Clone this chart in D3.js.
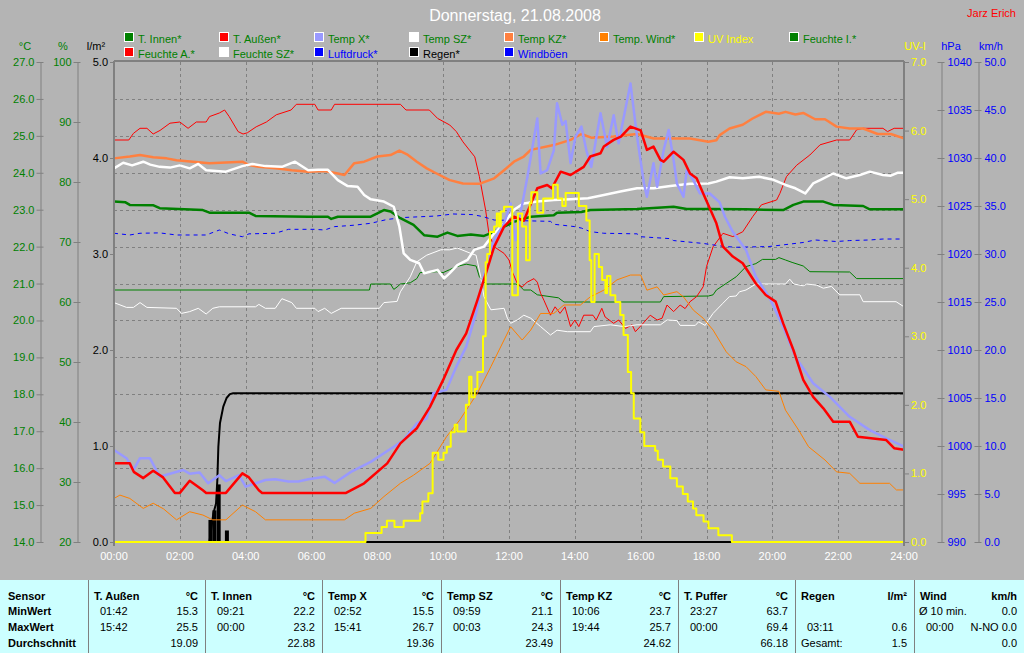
<!DOCTYPE html>
<html><head><meta charset="utf-8">
<script src="https://cdn.jsdelivr.net/npm/d3@7"></script>
<style>
body{margin:0;background:#b4b4b4;}
svg{display:block;font-family:"Liberation Sans",Arial,sans-serif;}
</style></head><body>
<svg id="c" width="1024" height="653"></svg>
<script>
// ---------------- DATA ----------------
const titleText = "Donnerstag, 21.08.2008";
const authorText = "Jarz Erich";
const timeLabels = ["00:00","02:00","04:00","06:00","08:00","10:00","12:00","14:00","16:00","18:00","20:00","22:00","24:00"];
const timeTickHours = [0,2,4,6,8,10,12,14,16,18,20,22,24];
const tempTicks = [14,15,16,17,18,19,20,21,22,23,24,25,26,27];
const humTicks = [20,30,40,50,60,70,80,90,100];
const rainTicks = [0,1,2,3,4,5];
const uvTicks = [0,1,2,3,4,5,6,7];
const pressTicks = [990,995,1000,1005,1010,1015,1020,1025,1030,1035,1040];
const windTicks = [0,5,10,15,20,25,30,35,40,45,50];
const legendNames = ["T. Innen*","T. Außen*","Temp X*","Temp SZ*","Temp KZ*","Temp. Wind*","UV Index","Feuchte I.*","Feuchte A.*","Feuchte SZ*","Luftdruck*","Regen*","Windböen"];

// [hour, value]
const tOut = [[0,16.13],[0.48,16.13],[0.6,15.9],[0.89,15.73],[1.19,15.93],[1.49,15.75],[1.85,15.33],[2.0,15.33],[2.3,15.66],[2.7,15.4],[2.8,15.33],[3.4,15.33],[3.9,15.86],[4.1,15.75],[4.4,15.4],[4.5,15.33],[5.9,15.33],[7.05,15.33],[7.6,15.59],[8.3,16.13],[8.7,16.67],[9.2,17.08],[9.6,17.66],[10.0,18.39],[10.4,19.2],[10.7,19.65],[11.04,20.55],[11.3,21.28],[11.55,22.0],[11.85,22.54],[12.15,22.81],[12.45,22.7],[12.86,23.58],[13.16,23.67],[13.3,23.58],[13.57,24.03],[13.87,23.94],[14.27,24.16],[14.47,24.44],[14.78,24.53],[14.88,24.71],[15.18,24.89],[15.4,24.98],[15.69,25.25],[16.0,25.15],[16.19,24.62],[16.39,24.71],[16.6,24.35],[16.7,24.3],[17.0,24.57],[17.3,24.35],[17.5,23.98],[17.7,23.85],[17.9,23.44],[18.3,22.63],[18.5,22.0],[18.8,21.73],[19.1,21.55],[19.5,21.0],[19.8,20.69],[20.1,20.51],[20.33,19.92],[20.64,19.2],[20.94,18.39],[21.24,17.93],[21.55,17.62],[21.85,17.26],[22.35,17.26],[22.6,16.85],[23.46,16.76],[23.7,16.54],[24,16.5]];
const tX = [[0,16.49],[0.38,16.27],[0.59,15.95],[0.79,16.27],[1.09,16.27],[1.39,15.77],[1.7,15.85],[2.1,15.95],[2.3,15.85],[2.6,15.88],[2.86,15.59],[3.2,15.81],[3.4,15.65],[3.8,15.81],[4.0,15.5],[4.6,15.68],[4.9,15.7],[5.3,15.64],[5.6,15.64],[5.9,15.7],[6.4,15.77],[6.7,15.6],[7.2,15.9],[7.8,16.17],[8.5,16.58],[8.8,16.76],[9.2,17.21],[9.5,17.35],[9.7,18.03],[10.1,18.12],[10.4,18.75],[10.7,19.29],[11.0,20.19],[11.3,21.46],[11.55,22.18],[11.85,22.63],[12.05,23.17],[12.2,22.18],[12.35,22.9],[12.56,23.89],[12.86,25.47],[12.96,23.98],[13.16,24.07],[13.36,24.6],[13.46,25.88],[13.62,25.3],[13.72,25.4],[13.87,24.26],[14.02,24.98],[14.2,25.25],[14.35,24.6],[14.5,24.16],[14.78,25.61],[14.98,24.7],[15.18,25.56],[15.33,24.8],[15.53,25.7],[15.69,26.42],[15.89,24.98],[16.1,23.71],[16.19,23.35],[16.39,24.26],[16.5,23.62],[16.7,24.62],[16.85,25.16],[17.0,24.35],[17.1,23.71],[17.3,23.35],[17.4,24.07],[17.6,23.8],[17.8,23.44],[18.1,23.44],[18.4,23.2],[18.56,22.81],[18.8,22.4],[19.2,21.91],[19.5,21.18],[19.9,20.64],[20.33,19.83],[20.7,19.02],[21.24,18.3],[21.75,17.93],[22.35,17.39],[22.96,17.03],[23.46,16.81],[24,16.58]];
const tSZ = [[0,24.12],[0.28,24.27],[0.55,24.2],[0.89,24.3],[1.1,24.22],[1.39,24.16],[1.7,24.14],[2.0,24.2],[2.3,24.12],[2.56,24.24],[2.8,24.07],[3.4,24.03],[3.9,24.18],[4.2,24.24],[4.6,24.18],[5.1,24.16],[5.5,24.3],[5.9,24.07],[6.2,24.08],[6.5,24.08],[6.8,23.8],[7.1,23.64],[7.4,23.62],[7.6,23.4],[7.8,23.28],[8.2,23.22],[8.5,23.08],[8.67,22.54],[8.8,21.82],[9.0,21.64],[9.27,21.55],[9.42,21.28],[9.83,21.37],[10.03,21.14],[10.2,21.28],[10.43,21.5],[10.74,21.64],[10.94,21.91],[11.24,22.0],[11.55,22.36],[11.85,22.63],[12.15,23.0],[12.45,23.17],[12.86,23.22],[13.36,23.26],[13.87,23.28],[14.4,23.31],[14.88,23.4],[15.38,23.49],[15.89,23.58],[16.4,23.58],[16.9,23.64],[17.5,23.7],[18.06,23.71],[18.3,23.76],[18.7,23.88],[19.1,23.85],[19.6,23.89],[20.0,23.82],[20.4,23.67],[20.7,23.58],[21.0,23.44],[21.24,23.71],[21.45,23.8],[21.85,23.98],[22.25,23.85],[22.66,23.94],[22.96,24.03],[23.36,23.94],[23.6,23.92],[23.8,24.0],[24,24.0]];
const tKZ = [[0,24.39],[0.48,24.44],[0.79,24.48],[1.19,24.42],[1.6,24.39],[1.9,24.34],[2.4,24.3],[2.9,24.26],[3.4,24.28],[3.9,24.3],[4.1,24.21],[4.4,24.16],[4.9,24.12],[5.4,24.07],[5.9,24.03],[6.4,24.05],[6.8,23.98],[7.0,23.94],[7.3,24.26],[7.6,24.3],[8.0,24.44],[8.4,24.48],[8.67,24.6],[8.9,24.5],[9.2,24.3],[9.5,24.12],[9.8,23.98],[10.2,23.8],[10.6,23.71],[11.1,23.7],[11.55,23.85],[11.85,24.07],[12.15,24.3],[12.45,24.44],[12.66,24.62],[13.36,24.75],[13.87,24.89],[14.2,25.05],[14.5,24.95],[15.18,24.98],[15.89,25.05],[16.4,24.93],[17.5,24.93],[18.06,24.84],[18.3,24.88],[18.4,25.02],[18.7,25.2],[19.1,25.3],[19.4,25.47],[19.8,25.65],[20.2,25.6],[20.4,25.65],[20.7,25.58],[20.94,25.62],[21.3,25.45],[21.6,25.45],[21.95,25.25],[22.35,25.2],[22.76,25.2],[23.2,25.05],[23.6,25.05],[24,24.93]];
const tWind = [[0,15.18],[0.18,15.27],[0.48,15.18],[0.89,14.91],[1.19,15.05],[1.5,14.9],[1.9,14.6],[2.3,14.82],[2.7,14.73],[3.0,14.6],[3.4,14.6],[3.9,15.0],[4.3,14.82],[4.6,14.6],[5.9,14.6],[7.0,14.6],[7.3,14.78],[7.8,14.91],[8.2,15.23],[8.7,15.59],[9.1,15.81],[9.6,16.13],[10.1,16.85],[10.5,17.3],[11.04,18.03],[11.45,18.75],[11.85,19.47],[12.05,19.83],[12.4,19.47],[12.66,19.74],[12.96,20.19],[13.36,20.19],[13.67,20.42],[14.17,20.42],[14.47,20.64],[14.88,20.82],[15.28,21.1],[15.69,21.23],[16.0,21.23],[16.19,20.82],[16.5,20.91],[16.7,20.69],[17.1,20.78],[17.3,20.64],[17.6,20.28],[17.9,20.06],[18.2,19.74],[18.6,19.15],[18.9,18.88],[19.2,18.75],[19.5,18.48],[19.8,18.12],[20.2,18.08],[20.4,17.57],[20.8,17.03],[21.1,16.58],[21.6,16.22],[21.95,15.9],[22.35,15.86],[22.66,15.59],[23.56,15.59],[23.77,15.41],[24,15.41]];
const tIn = [[0,23.22],[0.35,23.2],[0.48,23.13],[1.2,23.12],[1.39,23.04],[2.7,22.99],[2.9,22.92],[4.1,22.92],[4.3,22.83],[5.9,22.81],[6.5,22.81],[6.6,22.75],[6.8,22.81],[7.8,22.81],[8.2,22.99],[8.4,22.95],[8.7,22.77],[9.1,22.59],[9.42,22.31],[9.83,22.27],[10.13,22.38],[10.43,22.29],[10.84,22.33],[11.24,22.29],[11.55,22.4],[11.85,22.54],[12.15,22.67],[12.66,22.81],[13.36,22.85],[13.46,22.92],[14.2,22.94],[14.47,22.99],[15.89,23.02],[17.0,23.08],[17.4,23.02],[18.06,23.02],[19.2,23.01],[20.33,22.99],[20.64,23.13],[20.94,23.22],[21.55,23.22],[21.85,23.13],[22.76,23.1],[22.96,23.01],[24,23.01]];
const hIn = [[0,62],[7.76,62],[7.8,63],[8.4,63],[8.5,62.1],[8.6,62.5],[8.7,63],[9.0,63.2],[9.2,63.9],[9.3,64.9],[9.8,65.05],[10.0,64.9],[10.2,65.4],[10.4,65.9],[10.7,66.3],[11.0,66.0],[11.1,64.2],[11.3,63.0],[12.2,63.0],[12.3,62.8],[12.45,62],[12.66,62],[12.86,61.2],[13.5,60.7],[13.67,60.0],[16.6,60.0],[16.7,60.9],[18.06,61.0],[18.2,61.2],[18.3,62],[18.6,63.1],[18.9,64.2],[19.2,65.9],[19.5,66.4],[19.7,67.1],[20.1,67.1],[20.2,67.4],[20.4,67.0],[20.6,66.6],[20.94,66.0],[21.14,65.05],[22.35,65.0],[22.56,63.9],[24,63.9]];
const hOut = [[0,87.0],[0.45,87.0],[0.59,88.1],[0.79,88.95],[1.0,88.95],[1.19,88.0],[1.4,88.6],[1.7,89.8],[2.0,90.0],[2.25,88.95],[2.5,90.0],[2.8,90.0],[2.9,90.9],[3.2,91.5],[3.36,92.0],[3.5,90.9],[3.77,88.4],[3.92,88.0],[4.05,88.2],[4.32,89.2],[4.63,90.0],[4.93,91.2],[5.38,92.0],[5.54,92.95],[6.1,92.95],[6.2,92.0],[6.6,92.0],[6.7,92.95],[8.7,92.95],[8.87,92.0],[9.58,92.0],[9.83,90.6],[10.2,89.5],[10.4,88.4],[10.6,86.7],[10.8,85.3],[10.96,84.2],[11.1,80.9],[11.29,75.3],[11.39,71.45],[11.55,69.2],[11.85,68.1],[12.0,67.0],[12.1,65.05],[12.25,63.1],[12.4,62.5],[12.55,63.3],[12.76,63.9],[12.86,63.3],[12.96,61.45],[13.06,60.3],[13.26,57.8],[13.4,59.2],[13.55,58.1],[13.7,59.2],[13.87,55.9],[14.0,57.0],[14.12,55.9],[14.27,57.8],[14.55,57.8],[14.65,57.0],[14.82,58.95],[14.92,57.5],[15.18,56.45],[15.33,57.0],[15.54,55.6],[15.74,56.2],[15.84,55.05],[16.0,56.0],[16.29,57.8],[16.5,57.0],[16.65,57.3],[16.8,59.5],[17.0,58.4],[17.2,59.5],[17.35,58.9],[17.5,60.05],[17.7,60.9],[17.9,62.55],[18.0,65.9],[18.2,69.2],[18.5,71.45],[18.8,70.9],[19.1,71.7],[19.4,74.2],[19.67,76.2],[20.13,77.0],[20.23,78.1],[20.43,80.9],[20.74,82.8],[21.14,84.5],[21.45,86.2],[21.95,87.0],[22.35,87.0],[22.56,88.7],[22.76,88.95],[23.36,88.95],[23.5,88.4],[23.7,88.95],[24,88.95]];
const hSZ = [[0,59.9],[0.38,59.1],[0.59,59.1],[0.79,59.9],[1.0,59.1],[1.9,58.95],[2.05,58.1],[2.3,58.4],[2.56,58.95],[2.8,58.0],[3.0,58.95],[3.2,59.2],[4.3,59.2],[4.4,59.6],[4.6,58.95],[4.9,58.95],[5.1,60.55],[5.4,59.9],[5.54,58.95],[6.1,58.95],[6.2,58.4],[6.4,58.95],[6.6,58.1],[6.9,58.95],[8.06,58.95],[8.2,59.9],[8.6,60.1],[8.7,61.7],[9.0,64.2],[9.2,66.7],[9.5,67.8],[9.93,68.7],[10.2,68.7],[10.43,69.0],[10.84,68.1],[11.0,67.8],[11.14,64.2],[11.24,60.9],[11.45,58.7],[11.85,58.95],[11.95,57.3],[12.05,56.45],[12.25,57.0],[12.45,57.8],[12.66,57.3],[12.96,55.9],[13.26,54.5],[13.46,55.3],[13.77,55.05],[14.47,55.05],[14.58,55.9],[15.08,56.2],[15.5,55.9],[15.89,56.2],[16.6,56.2],[16.8,57.0],[17.1,56.9],[17.2,56.1],[17.66,56.1],[17.76,56.7],[17.96,56.1],[18.06,57.0],[18.2,58.1],[18.5,59.8],[18.7,60.9],[18.9,61.0],[19.0,61.7],[19.2,62.0],[19.5,63.0],[20.4,63.0],[20.53,63.8],[20.65,63.0],[20.94,62.7],[21.05,63.0],[21.35,62.8],[21.55,62.3],[21.8,62.6],[21.9,62.0],[22.05,61.2],[22.66,61.2],[22.76,60.05],[23.76,60.05],[24,59.2]];
const press = [[0,1022.16],[0.48,1021.98],[0.79,1022.16],[1.39,1022.2],[1.9,1021.98],[2.8,1021.98],[3.2,1022.5],[3.5,1022.1],[3.9,1021.8],[4.1,1022.1],[4.9,1022.16],[5.3,1022.57],[6.1,1022.57],[6.4,1022.5],[6.7,1022.85],[7.3,1023.0],[7.8,1023.2],[8.3,1023.6],[8.8,1023.8],[9.8,1023.96],[10.3,1024.17],[10.9,1024.1],[11.2,1023.9],[11.55,1023.54],[13.26,1023.4],[13.36,1023.1],[14.0,1022.85],[14.2,1022.7],[14.47,1022.33],[14.88,1022.16],[15.89,1022.1],[16.0,1021.8],[16.9,1021.6],[17.0,1021.4],[17.9,1021.1],[18.5,1020.8],[18.9,1020.7],[19.9,1020.78],[20.33,1020.95],[20.94,1021.2],[21.3,1021.46],[21.95,1021.3],[22.35,1021.4],[22.96,1021.46],[23.36,1021.56],[24,1021.56]];
const rainTotal = [[0,0],[2.9,0],[3.02,0.3],[3.1,0.4],[3.14,0.65],[3.17,0.99],[3.22,1.24],[3.32,1.41],[3.42,1.5],[3.52,1.54],[3.62,1.55],[24,1.55]];
const rainRate = [[2.93,0.23],[3.05,0.33],[3.18,0.6],[3.43,0.12]];
const rainBase = [[0,0],[24,0]];
const gusts = [[0,0],[24,0]];
const uv = [[0,0],[7.64,0.13],[8.13,0.22],[8.29,0.31],[8.52,0.22],[8.8,0.31],[9.3,0.42],[9.37,0.59],[9.55,0.71],[9.68,1.3],[9.85,1.2],[10.01,1.3],[10.11,1.39],[10.23,1.6],[10.35,1.71],[10.43,1.61],[10.69,2.0],[10.79,2.41],[10.86,2.11],[10.96,2.23],[11.04,2.48],[11.21,3.0],[11.29,4.08],[11.34,4.2],[11.42,4.52],[11.55,4.6],[11.63,4.79],[11.7,4.6],[11.75,4.82],[11.85,4.89],[12.1,3.6],[12.27,4.79],[12.4,4.6],[12.52,4.11],[12.63,4.94],[12.68,5.1],[12.86,4.8],[13.04,5.01],[13.34,5.21],[13.48,5.01],[13.62,4.9],[13.72,5.09],[14.12,4.9],[14.35,4.69],[14.45,4.11],[14.5,3.5],[14.6,4.2],[14.73,4.01],[14.83,3.82],[14.93,3.63],[14.98,3.88],[15.08,3.6],[15.23,3.5],[15.38,3.31],[15.48,3.02],[15.61,2.48],[15.71,2.17],[15.79,1.8],[15.99,1.6],[16.11,1.4],[16.44,1.33],[16.52,1.2],[16.68,1.1],[16.9,0.93],[17.1,0.81],[17.28,0.7],[17.43,0.59],[17.59,0.49],[17.69,0.39],[17.91,0.3],[18.06,0.2],[18.36,0.1],[18.77,0],[24,0]];

// table
const tabHeadFirst = ["Sensor","MinWert","MaxWert","Durchschnitt"];
const tabSensors = ["T. Außen","T. Innen","Temp X","Temp SZ","Temp KZ","T. Puffer","Regen","Wind"];
const tabUnits = ["°C","°C","°C","°C","°C","°C","l/m²","km/h"];
const tabMinTime = ["01:42","09:21","02:52","09:59","10:06","23:27","","Ø 10 min."];
const tabMinVal = ["15.3","22.2","15.5","21.1","23.7","63.7","","0.0"];
const tabMaxTime = ["15:42","00:00","15:41","00:03","19:44","00:00","03:11","00:00"];
const tabMaxVal = ["25.5","23.2","26.7","24.3","25.7","69.4","0.6","N-NO 0.0"];
const tabAvgLabel = ["","","","","","","Gesamt:",""];
const tabAvg = ["19.09","22.88","19.36","23.49","24.62","66.18","1.5","0.0"];

// ---------------- STYLE ----------------
const colors = {
  "T. Innen*":"#008000","T. Außen*":"#ff0000","Temp X*":"#9999ff","Temp SZ*":"#ffffff",
  "Temp KZ*":"#ff8040","Temp. Wind*":"#ff8000","UV Index":"#ffff00","Feuchte I.*":"#008000",
  "Feuchte A.*":"#ff0000","Feuchte SZ*":"#ffffff","Luftdruck*":"#0000ff","Regen*":"#000000","Windböen":"#0000ff"};
const textColors = {"UV Index":"#ffff00","Luftdruck*":"#0000ff","Regen*":"#000000","Windböen":"#0000ff"};
const GREEN="#008000", GRID="#808080", BG="#b4b4b4";

const svg = d3.select("#c");
svg.append("rect").attr("width",1024).attr("height",653).attr("fill",BG);

const L=114, R=904, T=62, B=542;
const x = d3.scaleLinear([0,24],[L,R]);
const yT = d3.scaleLinear([14,27],[B,T]);
const yH = d3.scaleLinear([20,100],[B,T]);
const yR = d3.scaleLinear([0,5],[B,T]);
const yUV = d3.scaleLinear([0,7],[B,T]);
const yP = d3.scaleLinear([990,1040],[B,T]);
const yW = d3.scaleLinear([0,50],[B,T]);

// title
svg.append("text").attr("x",515).attr("y",21).attr("text-anchor","middle")
  .attr("fill","#ffffff").attr("font-size",16).text(titleText);
svg.append("text").attr("x",1016).attr("y",17).attr("text-anchor","end")
  .attr("fill","#ff0000").attr("font-size",11).text(authorText);

// legend
legendNames.forEach((n,i)=>{
  const row = i<8?0:1, col = i<8?i:i-8;
  const lx = 124 + col*95, ly = 32 + row*15;
  svg.append("rect").attr("x",lx+0.5).attr("y",ly+0.5).attr("width",9).attr("height",9)
    .attr("fill",colors[n]).attr("stroke","#ffffff").attr("stroke-width",1);
  svg.append("text").attr("x",lx+14).attr("y",ly+10.5).attr("font-size",11)
    .attr("fill",textColors[n]||GREEN).text(n);
});

// unit labels
const units = [["°C",25,GREEN],["%",63,GREEN],["l/m²",96,"#000"],["UV-I",915,"#ffff00"],["hPa",951,"#0000ff"],["km/h",991,"#0000ff"]];
units.forEach(u=>svg.append("text").attr("x",u[1]).attr("y",50).attr("text-anchor","middle")
  .attr("font-size",11).attr("fill",u[2]).text(u[0]));

// grid
const grid = svg.append("g").attr("stroke",GRID).attr("stroke-width",1).attr("stroke-dasharray","3,3").attr("shape-rendering","crispEdges");
timeTickHours.filter(h=>h>0&&h<24).forEach(h=>grid.append("line").attr("x1",Math.round(x(h))+0.5).attr("x2",Math.round(x(h))+0.5).attr("y1",T).attr("y2",B));
tempTicks.filter(t=>t>14&&t<27).forEach(t=>grid.append("line").attr("x1",L).attr("x2",R).attr("y1",Math.round(yT(t))+0.5).attr("y2",Math.round(yT(t))+0.5));

// axes
function styleAxis(g, col, inner, outer){
  g.attr("font-family",null).attr("font-size",11);
  g.selectAll(".domain").attr("stroke",GRID).attr("stroke-width",1);
  g.selectAll(".tick line").attr("stroke",GRID).attr("x1",outer);
  g.selectAll(".tick text").attr("fill",col);
}
const axL1 = svg.append("g").attr("transform","translate(40.5,0)")
  .call(d3.axisLeft(yT).tickValues(tempTicks).tickFormat(d3.format(".1f")).tickSize(4).tickSizeOuter(0).tickPadding(2));
styleAxis(axL1,GREEN,-4,3);
const axL2 = svg.append("g").attr("transform","translate(77.5,0)")
  .call(d3.axisLeft(yH).tickValues(humTicks).tickFormat(d3.format("d")).tickSize(4).tickSizeOuter(0).tickPadding(2));
styleAxis(axL2,GREEN,-4,3);
const axL3 = svg.append("g").attr("transform","translate(114,0)")
  .call(d3.axisLeft(yR).tickValues(rainTicks).tickFormat(d3.format(".1f")).tickSize(4).tickSizeOuter(0).tickPadding(2));
styleAxis(axL3,"#000000",-4,0);
axL3.select(".domain").remove();
const axR1 = svg.append("g").attr("transform","translate(905,0)")
  .call(d3.axisRight(yUV).tickValues(uvTicks).tickFormat(d3.format(".1f")).tickSize(4).tickSizeOuter(0).tickPadding(2));
styleAxis(axR1,"#ffff00",4,0);
axR1.select(".domain").remove();
const axR2 = svg.append("g").attr("transform","translate(941.5,0)")
  .call(d3.axisRight(yP).tickValues(pressTicks).tickFormat(d3.format("d")).tickSize(3).tickSizeOuter(0).tickPadding(3));
styleAxis(axR2,"#0000ff",3,-4);
const axR3 = svg.append("g").attr("transform","translate(978.5,0)")
  .call(d3.axisRight(yW).tickValues(windTicks).tickFormat(d3.format(".1f")).tickSize(3).tickSizeOuter(0).tickPadding(3));
styleAxis(axR3,"#0000ff",3,-4);

// x labels
timeTickHours.forEach((h,i)=>svg.append("text").attr("x",x(h)).attr("y",560).attr("text-anchor","middle")
  .attr("font-size",11).attr("fill","#ffffff").text(timeLabels[i]));

// series
const plot = svg.append("g");
function draw(data, ys, color, w, opts={}){
  const line = d3.line().x(d=>x(d[0])).y(d=>ys(d[1])).curve(opts.curve||d3.curveLinear);
  const p = plot.append("path").datum(data).attr("d",line).attr("fill","none")
    .attr("stroke",color).attr("stroke-width",w).attr("stroke-linejoin","round");
  if(opts.dash) p.attr("stroke-dasharray",opts.dash);
  return p;
}
draw(gusts, yW, colors["Windböen"], 2);
draw(rainBase, yR, colors["Regen*"], 2);
plot.selectAll(".rainbar").data(rainRate).enter().append("rect")
  .attr("x",d=>x(d[0])-2).attr("width",4).attr("y",d=>yR(d[1])).attr("height",d=>yR(0)-yR(d[1]))
  .attr("fill",colors["Regen*"]);
draw(rainTotal, yR, colors["Regen*"], 2);
draw(hIn, yH, colors["Feuchte I.*"], 1);
draw(hOut, yH, colors["Feuchte A.*"], 1);
draw(hSZ, yH, colors["Feuchte SZ*"], 1);
draw(press, yP, colors["Luftdruck*"], 1, {dash:"4,4"});
draw(tWind, yT, colors["Temp. Wind*"], 1);
draw(tIn, yT, colors["T. Innen*"], 2.5);
draw(tKZ, yT, colors["Temp KZ*"], 2.5);
draw(tSZ, yT, colors["Temp SZ*"], 2.5);
draw(tX, yT, colors["Temp X*"], 2.5);
draw(tOut, yT, colors["T. Außen*"], 2.5);
draw(uv, yUV, colors["UV Index"], 2, {curve:d3.curveStepAfter});

// frame
const fr = svg.append("g").attr("stroke","#808080").attr("stroke-width",2).attr("fill","none");
fr.append("line").attr("x1",L).attr("x2",L).attr("y1",T-1).attr("y2",546);
fr.append("line").attr("x1",R).attr("x2",R).attr("y1",T-1).attr("y2",546);
fr.append("line").attr("x1",L).attr("x2",R).attr("y1",T-1).attr("y2",T-1);

// table
const tb = svg.append("g").attr("font-size",11);
tb.append("rect").attr("x",0).attr("y",580).attr("width",1024).attr("height",73).attr("fill","#ccffff");
const colL = [0,88,205,322,441,560,678,795,914,1024];
const rowY = [599.5,615,631,647];
colL.slice(1,9).forEach(c=>tb.append("line").attr("x1",c+0.5).attr("x2",c+0.5).attr("y1",580).attr("y2",653)
  .attr("stroke","#808080").attr("stroke-width",1));
tabHeadFirst.forEach((t,i)=>tb.append("text").attr("x",8).attr("y",rowY[i]).attr("font-weight","bold").attr("fill","#000").text(t));
tabSensors.forEach((s,i)=>{
  const l = colL[i+1], r = colL[i+2]-7;
  const minOff = tabMinTime[i].startsWith("Ø") ? 5 : 12;
  tb.append("text").attr("x",l+6).attr("y",rowY[0]).attr("font-weight","bold").text(s);
  tb.append("text").attr("x",r).attr("y",rowY[0]).attr("font-weight","bold").attr("text-anchor","end").text(tabUnits[i]);
  tb.append("text").attr("x",l+minOff).attr("y",rowY[1]).text(tabMinTime[i]);
  tb.append("text").attr("x",r).attr("y",rowY[1]).attr("text-anchor","end").text(tabMinVal[i]);
  tb.append("text").attr("x",l+12).attr("y",rowY[2]).text(tabMaxTime[i]);
  tb.append("text").attr("x",r).attr("y",rowY[2]).attr("text-anchor","end").text(tabMaxVal[i]);
  tb.append("text").attr("x",l+6).attr("y",rowY[3]).text(tabAvgLabel[i]);
  tb.append("text").attr("x",r).attr("y",rowY[3]).attr("text-anchor","end").text(tabAvg[i]);
});
</script>
</body></html>
